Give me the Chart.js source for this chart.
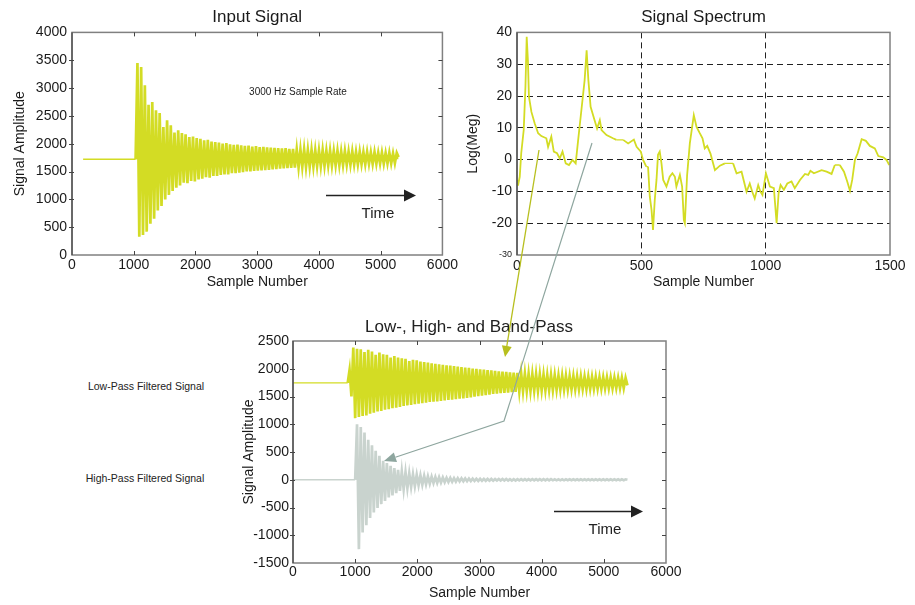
<!DOCTYPE html>
<html>
<head>
<meta charset="utf-8">
<title>Input Signal / Signal Spectrum / Filtered</title>
<script src="https://cdn.jsdelivr.net/npm/chart.js@4.4.0/dist/chart.umd.min.js"></script>
<style>
    body { margin: 0; background: #fff; }
    #page { position: relative; width: 915px; height: 605px; overflow: hidden;
            font-family: "Liberation Sans", Arial, Helvetica, sans-serif; color: #222; }
    canvas { position: absolute; }
    #inputChart { left: 0; top: 0; }
    #spectrumChart { left: 455px; top: 0; }
    #filterChart { left: 220px; top: 310px; }
    .note { position: absolute; transform: translate(-50%, -50%); white-space: nowrap; color: #222; }
    svg { position: absolute; left: 0; top: 0; pointer-events: none; }
</style>
</head>
<body>
<div id="page">
    <canvas id="inputChart" width="460" height="300"></canvas>
    <canvas id="spectrumChart" width="460" height="300"></canvas>
    <canvas id="filterChart" width="470" height="295"></canvas>

    <div class="note" style="left:298px; top:91px; font-size:10px;">3000 Hz Sample Rate</div>
    <div class="note" style="left:378px; top:212px; font-size:15px;">Time</div>
    <div class="note" style="left:469px; top:327px; font-size:17px;">Low-, High- and Band-Pass</div>
    <div class="note" style="left:146px; top:386px; font-size:10.5px;">Low-Pass Filtered Signal</div>
    <div class="note" style="left:145px; top:478px; font-size:10.5px;">High-Pass Filtered Signal</div>
    <div class="note" style="left:605px; top:528px; font-size:15px;">Time</div>

    <svg width="915" height="605">
        <!-- time arrows -->
        <line x1="326" y1="195.5" x2="405" y2="195.5" stroke="#222" stroke-width="1.5"/>
        <polygon points="404,189.5 416,195.5 404,201.5" fill="#222"/>
        <line x1="554" y1="511.5" x2="632" y2="511.5" stroke="#222" stroke-width="1.5"/>
        <polygon points="631,505.5 643,511.5 631,517.5" fill="#222"/>
        <!-- spectrum -> filtered signal connectors -->
        <line x1="539" y1="150" x2="506.8" y2="346.1" stroke="#b7bf1e" stroke-width="1.3"/>
        <polygon points="505,357 511.7,346.9 501.9,345.3" fill="#b7bf1e"/>
        <polyline points="592,143 504,421 395.4,457.2" fill="none" stroke="#8ea69f" stroke-width="1.2"/>
        <polygon points="384,461 397,461.9 393.8,452.5" fill="#8ea69f"/>
    </svg>
</div>

<script>
// sample numbers shared by the time-domain signals
const sampleNo = [
    0, 180,
    880, 910, 940, 970, 1000, 1030, 1060, 1090, 1120, 1150,
    1180, 1210, 1240, 1270, 1300, 1330, 1360, 1390, 1420, 1450,
    1480, 1510, 1540, 1570, 1600, 1630, 1660, 1690, 1720, 1750,
    1780, 1810, 1840, 1870, 1900, 1930, 1960, 1990, 2020, 2050,
    2080, 2110, 2140, 2170, 2200, 2230, 2260, 2290, 2320, 2350,
    2380, 2410, 2440, 2470, 2500, 2530, 2560, 2590, 2620, 2650,
    2680, 2710, 2740, 2770, 2800, 2830, 2860, 2890, 2920, 2950,
    2980, 3010, 3040, 3070, 3100, 3130, 3160, 3190, 3220, 3250,
    3280, 3310, 3340, 3370, 3400, 3430, 3460, 3490, 3520, 3550,
    3580, 3610, 3640, 3670, 3700, 3730, 3760, 3790, 3820, 3850,
    3880, 3910, 3940, 3970, 4000, 4030, 4060, 4090, 4120, 4150,
    4180, 4210, 4240, 4270, 4300, 4330, 4360, 4390, 4420, 4450,
    4480, 4510, 4540, 4570, 4600, 4630, 4660, 4690, 4720, 4750,
    4780, 4810, 4840, 4870, 4900, 4930, 4960, 4990, 5020, 5050,
    5080, 5110, 5140, 5170, 5200, 5230, 5260, 5290, 5320, 5350,
    5380, 5410
];

const inputSignal = [
    null, 1720,
    1720, 1720, 1720, 1720, 1720, 1720, 3450, 330, 3380, 360,
    3050, 420, 2700, 560, 2750, 650, 2600, 800, 2550, 880,
    2300, 1000, 2420, 1080, 2330, 1150, 2200, 1210, 2240, 1250,
    2190, 1300, 2170, 1290, 2120, 1330, 2130, 1320, 2100, 1360,
    2090, 1370, 2060, 1400, 2070, 1390, 2040, 1420, 2030, 1420,
    2020, 1440, 2000, 1450, 2010, 1450, 1990, 1470, 1980, 1470,
    1985, 1480, 1970, 1490, 1960, 1500, 1965, 1500, 1950, 1510,
    1955, 1515, 1940, 1520, 1945, 1525, 1935, 1530, 1930, 1540,
    1925, 1545, 1920, 1550, 1915, 1555, 1920, 1560, 1905, 1565,
    1905, 1570, 1900, 1575, 1895, 1580, 1900, 1580, 1890, 1585,
    1890, 1590, 1885, 1595, 1880, 1595, 1885, 1600, 1875, 1605,
    1880, 1605, 1870, 1610, 1875, 1610, 1865, 1615, 1870, 1620,
    1860, 1620, 1865, 1625, 1855, 1625, 1860, 1630, 1850, 1630,
    1855, 1635, 1845, 1635, 1850, 1640, 1840, 1640, 1845, 1640,
    1835, 1645, 1840, 1645, 1830, 1650, 1835, 1760, null, null,
    null, null
];

const lowPass = [
    1745, 1745,
    1745, 1980, 1500, 2380, 1110, 2360, 1130, 2350, 1150, 2300,
    1160, 2340, 1190, 2310, 1210, 2250, 1230, 2290, 1240, 2260,
    1260, 2250, 1270, 2200, 1290, 2230, 1300, 2200, 1310, 2190,
    1330, 2180, 1340, 2140, 1350, 2160, 1360, 2150, 1370, 2130,
    1380, 2120, 1390, 2110, 1400, 2100, 1405, 2090, 1410, 2080,
    1420, 2070, 1430, 2060, 1440, 2055, 1445, 2050, 1450, 2040,
    1460, 2030, 1465, 2020, 1475, 2015, 1485, 2005, 1495, 2000,
    1505, 1990, 1515, 1985, 1525, 1975, 1535, 1970, 1545, 1960,
    1550, 1955, 1560, 1950, 1565, 1945, 1570, 1935, 1580, 1930,
    1585, 1925, 1590, 1920, 1595, 1915, 1600, 1910, 1600, 1905,
    1605, 1905, 1605, 1900, 1610, 1895, 1610, 1890, 1615, 1890,
    1615, 1885, 1620, 1880, 1620, 1880, 1625, 1875, 1625, 1870,
    1630, 1870, 1630, 1865, 1630, 1865, 1635, 1860, 1635, 1860,
    1635, 1855, 1640, 1855, 1640, 1850, 1640, 1850, 1645, 1845,
    1645, 1845, 1645, 1840, 1650, 1840, 1650, 1840, 1650, 1835,
    1700, null
];

const highPass = [
    0, 0,
    0, 0, 0, 0, 0, 1000, -1250, 950, -950, 850,
    -820, 720, -690, 620, -590, 520, -510, 430, -440, 340,
    -380, 300, -320, 250, -280, 210, -240, 180, -200, 150,
    -170, 135, -150, 115, -130, 100, -115, 90, -100, 80,
    -90, 70, -80, 60, -70, 55, -60, 50, -55, 45,
    -50, 40, -45, 35, -40, 32, -36, 30, -33, 28,
    -30, 25, -28, 23, -26, 21, -24, 20, -22, 18,
    -20, 17, -19, 16, -18, 15, -17, 15, -16, 14,
    -15, 14, -15, 13, -14, 13, -14, 12, -13, 12,
    -13, 12, -12, 11, -12, 11, -12, 11, -11, 10,
    -11, 10, -11, 10, -10, 10, -10, 10, -10, 10,
    -10, 9, -10, 9, -10, 9, -10, 9, -9, 9,
    -9, 9, -9, 9, -9, 9, -9, 8, -9, 8,
    -9, 8, -8, 8, -8, 8, -8, 8, -8, 8,
    -8, 8, -8, 8, -8, 8, -8, 8, -8, 8,
    0, null
];

// spectrum (bin number vs log magnitude)
const specX = [
    0, 4, 11, 17, 27, 34, 39, 44, 48, 58,
    71, 85, 98, 118, 125, 138, 148, 161, 172, 183,
    196, 209, 223, 236, 246, 259, 272, 280, 287, 296,
    312, 322, 333, 340, 360, 386, 400, 427, 447, 470,
    481, 498, 507, 520, 527, 534, 541, 547, 554, 561,
    567, 574, 581, 588, 601, 614, 625, 635, 641, 655,
    664, 671, 675, 684, 695, 711, 722, 735, 746, 755,
    765, 778, 796, 816, 836, 869, 883, 903, 923, 936,
    946, 956, 970, 979, 987, 1001, 1017, 1033, 1044, 1052,
    1060, 1073, 1087, 1104, 1117, 1138, 1158, 1171, 1180, 1194,
    1225, 1245, 1265, 1278, 1298, 1315, 1328, 1339, 1348, 1359,
    1370, 1386, 1403, 1419, 1439, 1453, 1473, 1486, 1497
];
const specY = [
    -6.4, -8.2, -5.4, 2, 9.3, 23, 38.6, 31, 19.8, 15,
    11.4, 8.3, 7.4, 6.7, 4, 7.2, 2.5, 2, 0.4, 2.5,
    -1.2, -1.7, -0.1, -1.2, 6.2, 15.6, 25, 34.4, 25, 16.6,
    12.4, 9.8, 12.4, 9.3, 7.7, 6.7, 6.2, 6.2, 5.1, 6.3,
    4, 2.5, -0.1, -2.2, -2.2, -11.6, -15.8, -22.1, -12.7, -6.4,
    1.5, 2.5, -1.2, -6.4, -8.5, -5.4, -4.3, -5.4, -8.5, -4.8,
    -8.5, -19, -20, -5, 5.1, 14, 10.3, 8.3, 6.7, 3.5,
    4.3, 1.9, -3.3, -1.9, -1.2, -1.2, -4.3, -3.8, -10.1, -7.5,
    -10.1, -12.2, -8, -10.1, -11.1, -4.3, -8.5, -9, -20, -10.6,
    -8, -9.5, -7.5, -6.9, -9, -6.4, -4.5, -4.8, -3.5, -4.3,
    -3.3, -3.8, -4.5, -1.7, -1.7, -3.8, -6.9, -9.8, -6.4, -0.1,
    2, 6.4, 5.9, 4.3, 3.5, 1.1, 0.7, -0.1, -1.7
];

const YELLOW = '#d3dc24';
const GREY_SIGNAL = '#c9d3ce';
const TEXT = '#1a1a1a';

Chart.defaults.font.family = '"Liberation Sans", Arial, Helvetica, sans-serif';
Chart.defaults.color = TEXT;

// box round the plot area, with the small inward tick marks of the original
const framePlugin = {
    id: 'frame',
    afterDatasetsDraw(chart, args, opts) {
        const { ctx, chartArea: a, scales } = chart;
        ctx.save();
        ctx.strokeStyle = '#808080';
        ctx.lineWidth = 1.5;
        ctx.strokeRect(a.left, a.top, a.right - a.left, a.bottom - a.top);
        ctx.strokeStyle = '#333';
        ctx.lineWidth = 1;
        ctx.beginPath();
        ctx.moveTo(a.left, a.top);
        ctx.lineTo(a.left, a.bottom);
        ctx.stroke();
        if (opts.ticks) {
            ctx.strokeStyle = '#444';
            ctx.beginPath();
            scales.x.ticks.forEach(t => {
                const px = Math.round(scales.x.getPixelForValue(t.value)) + 0.5;
                if (px < a.left + 2 || px > a.right - 2) return;
                ctx.moveTo(px, a.top); ctx.lineTo(px, a.top + 4);
                ctx.moveTo(px, a.bottom); ctx.lineTo(px, a.bottom - 4);
            });
            scales.y.ticks.forEach(t => {
                const py = Math.round(scales.y.getPixelForValue(t.value)) + 0.5;
                if (py < a.top + 2 || py > a.bottom - 2) return;
                ctx.moveTo(a.left - 3, py); ctx.lineTo(a.left + 2, py);
                ctx.moveTo(a.right, py); ctx.lineTo(a.right - 4, py);
            });
            ctx.stroke();
        }
        ctx.restore();
    }
};

const plain = v => String(v);

function xAxis(max, step, height, labelPad, titlePad) {
    return {
        type: 'linear', min: 0, max: max,
        ticks: { stepSize: step, font: { size: 14 }, padding: labelPad, maxRotation: 0, callback: plain, color: TEXT },
        grid: { display: false, drawTicks: false, tickLength: 0 },
        border: { display: false },
        title: { display: true, text: 'Sample Number', font: { size: 14 }, padding: { top: 0, bottom: titlePad }, color: TEXT },
        afterFit: s => { s.height = height; }
    };
}

function yAxis(min, max, step, width, labelPad, title, titlePad) {
    return {
        min: min, max: max,
        ticks: { stepSize: step, font: { size: 14 }, padding: labelPad, callback: plain, color: TEXT },
        grid: { display: false, drawTicks: false, tickLength: 0 },
        border: { display: false },
        title: { display: true, text: title, font: { size: 14 }, padding: { top: titlePad, bottom: 0 }, color: TEXT },
        afterFit: s => { s.width = width; }
    };
}

// a dense oscillation: the trace plus a fill back to its resting level, so the
// middle of the burst reads solid like the original plots
function signalLine(values, colour, width, restLevel) {
    return {
        data: values,
        borderColor: colour,
        backgroundColor: colour,
        borderWidth: width,
        pointRadius: 0,
        tension: 0,
        spanGaps: false,
        fill: restLevel === undefined ? false : { value: restLevel },
        // the quiet lead-in before the burst is a thin line
        segment: {
            borderWidth: c => (c.p0.parsed.y === c.p1.parsed.y ? 1.4 : undefined)
        }
    };
}

const commonPlugins = {
    legend: { display: false },
    tooltip: { enabled: false },
    filler: { propagate: false }
};

new Chart(document.getElementById('inputChart'), {
    type: 'line',
    data: { labels: sampleNo, datasets: [signalLine(inputSignal, YELLOW, 2.7, 1720)] },
    options: {
        responsive: false,
        animation: false,
        layout: { padding: { left: 0, right: 16, top: 0, bottom: 0 } },
        plugins: {
            ...commonPlugins,
            title: { display: true, text: 'Input Signal', fullSize: false, color: TEXT,
                     font: { size: 17, weight: 'normal' }, padding: { top: 7, bottom: 5 } },
            frame: { ticks: true }
        },
        scales: {
            x: xAxis(6000, 1000, 45, 2, 9),
            y: yAxis(0, 4000, 500, 72, 5, 'Signal Amplitude', 12)
        }
    },
    plugins: [framePlugin]
});

const specYAxis = yAxis(-30, 40, 10, 62, 5, 'Log(Meg)', 10);
specYAxis.ticks.font = c => (c.tick && c.tick.value === -30) ? { size: 9 } : { size: 14 };
specYAxis.grid = {
    display: true, drawTicks: false, tickLength: 0, lineWidth: 1,
    color: c => (c.tick && (c.tick.value === -30 || c.tick.value === 40)) ? 'rgba(0,0,0,0)' : '#222'
};
specYAxis.border = { display: false, dash: [6, 4] };
const specXAxis = xAxis(1500, 500, 45, 3, 9);
specXAxis.grid = {
    display: true, drawTicks: false, tickLength: 0, lineWidth: 1,
    color: c => (c.tick && (c.tick.value === 0 || c.tick.value === 1500)) ? 'rgba(0,0,0,0)' : '#222'
};
specXAxis.border = { display: false, dash: [6, 4] };

new Chart(document.getElementById('spectrumChart'), {
    type: 'line',
    data: { labels: specX, datasets: [signalLine(specY, YELLOW, 1.8)] },
    options: {
        responsive: false,
        animation: false,
        layout: { padding: { left: 0, right: 25, top: 0, bottom: 0 } },
        plugins: {
            ...commonPlugins,
            title: { display: true, text: 'Signal Spectrum', fullSize: false, color: TEXT,
                     font: { size: 17, weight: 'normal' }, padding: { top: 7, bottom: 5 } },
            frame: { ticks: false }
        },
        scales: { x: specXAxis, y: specYAxis }
    },
    plugins: [framePlugin]
});

new Chart(document.getElementById('filterChart'), {
    type: 'line',
    data: {
        labels: sampleNo,
        datasets: [
            signalLine(highPass, GREY_SIGNAL, 2.7, 0),
            signalLine(lowPass, YELLOW, 2.7, 1745)
        ]
    },
    options: {
        responsive: false,
        animation: false,
        layout: { padding: { left: 0, right: 24, top: 31, bottom: 0 } },
        plugins: { ...commonPlugins, frame: { ticks: true } },
        scales: {
            x: xAxis(6000, 1000, 42, 1, 3),
            y: yAxis(-1500, 2500, 500, 73, 4, 'Signal Amplitude', 21)
        }
    },
    plugins: [framePlugin]
});
</script>
</body>
</html>
